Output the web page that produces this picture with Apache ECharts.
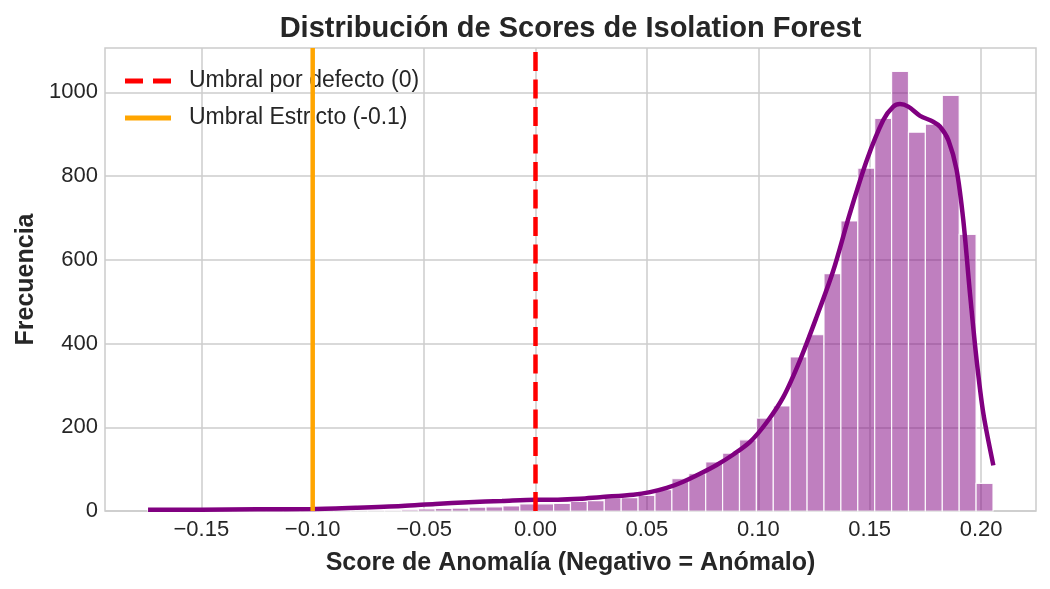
<!DOCTYPE html>
<html>
<head>
<meta charset="utf-8">
<script src="https://cdn.jsdelivr.net/npm/echarts@6/dist/echarts.min.js"></script>
<style>
  html, body { margin: 0; padding: 0; background: #fff; }
  #chart { width: 1050px; height: 589px; }
</style>
</head>
<body>
<div id="chart"></div>
<script>
// histogram: 50 bins between the min and max score
const binMin = -0.17393;
const binMax = 0.20534;
const binCounts = [
  1, 0, 1, 0, 0, 1, 0, 1, 1, 1, 1, 1, 2, 2, 2, 3,
  5, 6, 7, 9, 10, 12,
  17, 17, 18, 23, 25, 31, 32, 37, 51, 77, 89,
  117, 138, 170, 222, 251, 368, 421,
  567, 693, 819, 938, 1050, 905, 924, 993, 661, 66
];

// KDE curve (scaled to counts)
const kdeX = [
  -0.1739, -0.15, -0.125, -0.10, -0.08, -0.06, -0.045, -0.03, -0.015, 0.0,
  0.01, 0.02, 0.029, 0.0439, 0.0514, 0.0589, 0.0663, 0.0738, 0.0813, 0.0888,
  0.0963, 0.1038, 0.1112, 0.1187, 0.1262, 0.1337, 0.1411, 0.1487, 0.1561, 0.1606,
  0.1636, 0.1673, 0.1726, 0.1785, 0.1816, 0.1853, 0.1890, 0.1920, 0.1950, 0.1980,
  0.2010, 0.2055
];
const kdeY = [
  3, 3, 4, 5, 8, 12, 17, 21, 24, 27,
  27, 29, 33, 39, 45, 55, 70, 89, 110, 135,
  165, 212, 272, 360, 464, 575, 711, 838, 934, 966,
  972, 966, 944, 930, 918, 886, 815, 695, 520, 360,
  233, 109
];

const thresholds = [
  { name: 'Umbral por defecto (0)', x: 0, color: '#ff0000', dashed: true },
  { name: 'Umbral Estricto (-0.1)', x: -0.1, color: '#ffa500', dashed: false }
];

const xTicks = [-0.15, -0.10, -0.05, 0.00, 0.05, 0.10, 0.15, 0.20];
const yTicks = [0, 200, 400, 600, 800, 1000];

const xMin = -0.19322, xMax = 0.22464;
const yMax = 1106;

const binWidth = (binMax - binMin) / binCounts.length;
const histData = binCounts.map((c, i) => [binMin + i * binWidth, binMin + (i + 1) * binWidth, c]);
const kdeData = kdeX.map((x, i) => [x, kdeY[i]]);

const textColor = '#262626';
const font = 'Liberation Sans, Arial, sans-serif';

// legend sample shapes (46 x 5 px)
const dashIcon = 'path://M0,0H18V5H0Z M28,0H46V5H28Z';
const solidIcon = 'path://M0,0H46V5H0Z';

const chart = echarts.init(document.getElementById('chart'));

chart.setOption({
  animation: false,
  backgroundColor: '#fff',
  title: {
    text: 'Distribución de Scores de Isolation Forest',
    left: 570.5,
    textAlign: 'center',
    top: 14,
    padding: 0,
    textStyle: { fontFamily: font, fontSize: 29, fontWeight: 'bold', color: textColor }
  },
  grid: {
    left: 105, right: 14, top: 48, bottom: 78,
    show: true, borderColor: '#cccccc', borderWidth: 1.5, backgroundColor: 'transparent'
  },
  legend: {
    left: 125, top: 68, orient: 'vertical', padding: 0,
    itemWidth: 46, itemHeight: 5, itemGap: 11,
    data: thresholds.map(t => ({ name: t.name, icon: t.dashed ? dashIcon : solidIcon })),
    textStyle: { fontFamily: font, fontSize: 23, color: textColor, lineHeight: 26, padding: [0, 0, 0, 13] }
  },
  xAxis: {
    type: 'value', min: xMin, max: xMax,
    name: 'Score de Anomalía (Negativo = Anómalo)',
    nameLocation: 'middle', nameGap: 40,
    nameTextStyle: { fontFamily: font, fontSize: 25, fontWeight: 'bold', color: textColor },
    axisLine: { show: false },
    axisTick: { show: false, customValues: xTicks },
    axisLabel: {
      customValues: xTicks, margin: 8,
      fontFamily: font, fontSize: 22, color: textColor,
      formatter: v => (v < 0 ? '\u2212' : '') + Math.abs(v).toFixed(2)
    },
    splitLine: { show: true, lineStyle: { color: '#cccccc', width: 1.5 } }
  },
  yAxis: {
    type: 'value', min: 0, max: yMax,
    name: 'Frecuencia',
    nameLocation: 'middle', nameGap: 57,
    nameTextStyle: { fontFamily: font, fontSize: 25, fontWeight: 'bold', color: textColor },
    axisLine: { show: false },
    axisTick: { show: false, customValues: yTicks },
    axisLabel: {
      customValues: yTicks, margin: 7, fontFamily: font, fontSize: 22, color: textColor,
      formatter: v => String(v)
    },
    splitLine: { show: true, lineStyle: { color: '#cccccc', width: 1.5 } }
  },
  series: [
    {
      type: 'custom',
      name: 'hist',
      z: 2,
      data: histData,
      encode: { x: [0, 1], y: 2 },
      renderItem: (params, api) => {
        const p0 = api.coord([api.value(0), api.value(2)]);
        const p1 = api.coord([api.value(1), 0]);
        return {
          type: 'rect',
          shape: { x: p0[0], y: p0[1], width: p1[0] - p0[0], height: p1[1] - p0[1] },
          style: { fill: 'rgba(128,0,128,0.5)', stroke: 'rgba(255,255,255,0.9)', lineWidth: 1.2 }
        };
      }
    },
    {
      type: 'line',
      name: 'kde',
      z: 3,
      data: kdeData,
      smooth: 0.3,
      symbol: 'none',
      lineStyle: { color: '#800080', width: 4.5 }
    },
    ...thresholds.map(t => ({
      type: 'line',
      name: t.name,
      z: 4,
      data: [[t.x, 0], [t.x, yMax]],
      symbol: 'none',
      itemStyle: { color: t.color },
      lineStyle: {
        color: t.color, width: 4.5,
        type: t.dashed ? [19, 8.5] : 'solid'
      }
    }))
  ]
});
</script>
</body>
</html>
